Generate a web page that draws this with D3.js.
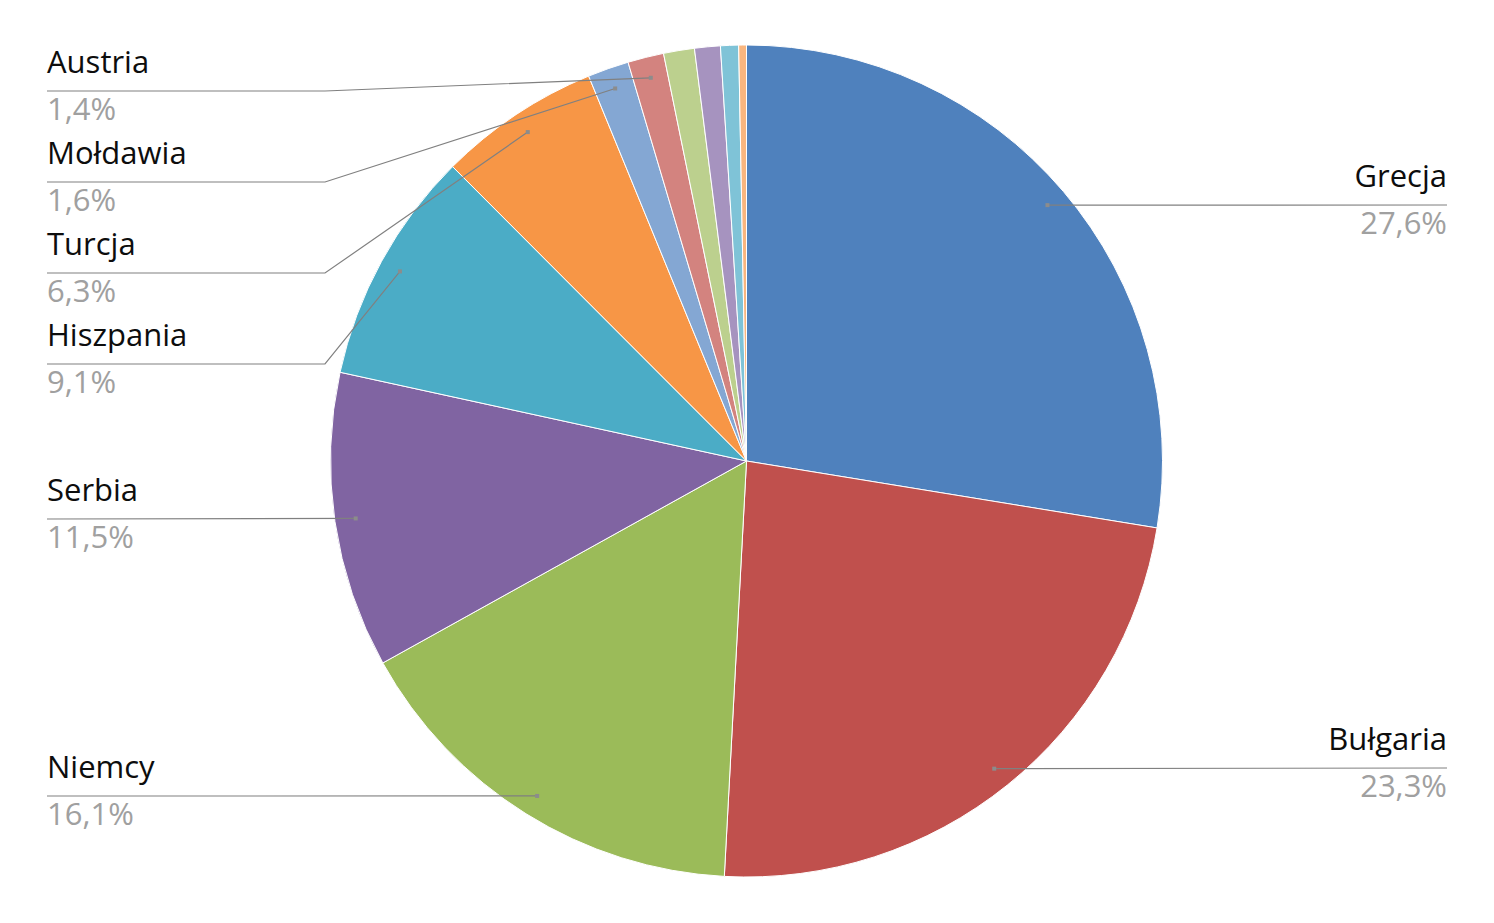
<!DOCTYPE html>
<html><head><meta charset="utf-8">
<script src="https://cdn.jsdelivr.net/npm/d3@7"></script>
<style>body{margin:0;background:#fff}svg{display:block}</style>
</head><body>
<svg id="c" width="1494" height="923"></svg>
<script>
const categories = ["Grecja","Bułgaria","Niemcy","Serbia","Hiszpania","Turcja","Mołdawia","Austria","Inne A","Inne B","Inne C","Inne D"];
const values = [27.6,23.3,16.1,11.5,9.1,6.3,1.6,1.4,1.2,1.0,0.7,0.3];
const valueLabels = ["27,6%","23,3%","16,1%","11,5%","9,1%","6,3%","1,6%","1,4%","","","",""];
const colors = ["#4F81BD","#C0504D","#9BBB59","#8064A2","#4BACC6","#F79646","#84A7D3","#D3837F","#BCD08E","#A693BF","#7FC3D7","#F9B67F"];

// layout (label rows) - not data
const W = 1494, H = 923, cx = 746.5, cy = 461, R = 416;
const labelLayout = {
  "Grecja":   {side:"right", y:205, bend:null},
  "Bułgaria": {side:"right", y:768, bend:null},
  "Niemcy":   {side:"left",  y:796, bend:null},
  "Serbia":   {side:"left",  y:519, bend:null},
  "Hiszpania":{side:"left",  y:364, bend:325},
  "Turcja":   {side:"left",  y:273, bend:325},
  "Mołdawia": {side:"left",  y:182, bend:325},
  "Austria":  {side:"left",  y:91,  bend:325}
};
const leftX = 47, rightX = 1447;

const svg = d3.select("#c");
const data = categories.map((c,i)=>({name:c, value:values[i], label:valueLabels[i], color:colors[i]}));
const pie = d3.pie().value(d=>d.value).sort(null);
const arcs = pie(data);
const arc = d3.arc().innerRadius(0).outerRadius(R);
const anchorArc = d3.arc().innerRadius(395).outerRadius(395);

const g = svg.append("g").attr("transform",`translate(${cx},${cy})`);
g.selectAll("path").data(arcs).enter().append("path")
  .attr("d",arc).attr("fill",d=>d.data.color)
  .attr("stroke","#fff").attr("stroke-width",1);

const lg = svg.append("g");
const font = "'Open Sans', sans-serif", fs = 31;
arcs.forEach(a=>{
  const L = labelLayout[a.data.name];
  if(!L) return;
  const c = anchorArc.centroid(a);
  const ax = cx + c[0], ay = cy + c[1];
  let pts;
  if(L.side==="right"){
    pts = [[ax,ay],[rightX,L.y]];
  } else if(L.bend){
    pts = [[leftX,L.y],[L.bend,L.y],[ax,ay]];
  } else {
    pts = [[leftX,L.y],[ax,ay]];
  }
  lg.append("path").attr("d",d3.line()(pts)).attr("fill","none")
    .attr("stroke","#808080").attr("stroke-width",1.2);
  lg.append("rect").attr("x",ax-2).attr("y",ay-2).attr("width",4).attr("height",4)
    .attr("fill","#8c8c8c");
  const tx = L.side==="right"? rightX : leftX;
  const anchor = L.side==="right"? "end":"start";
  lg.append("text").attr("x",tx).attr("y",L.y-18).attr("text-anchor",anchor)
    .attr("font-family",font).attr("font-size",fs)
    .attr("fill","#0d0d0d").text(a.data.name);
  lg.append("text").attr("x",tx).attr("y",L.y+29).attr("text-anchor",anchor)
    .attr("font-family",font).attr("font-size",fs)
    .attr("fill","#a0a0a0").text(a.data.label);
});
</script>
</body></html>
